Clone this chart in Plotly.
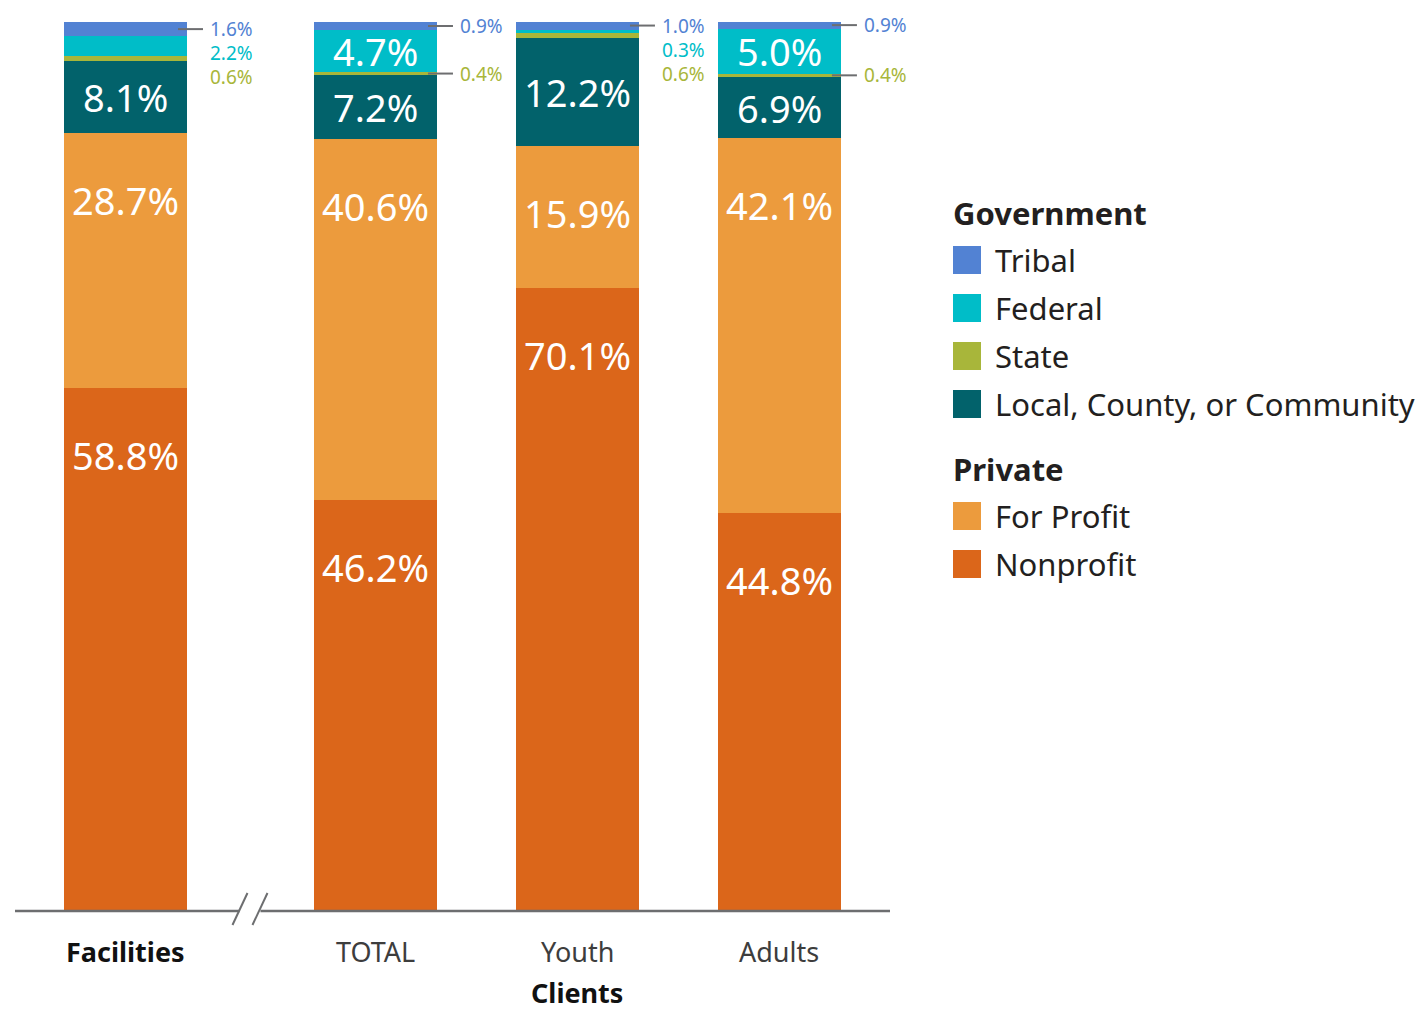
import plotly.graph_objects as go

# ---- data -------------------------------------------------------------
categories = ["Facilities", "TOTAL", "Youth", "Adults"]
series_names = ["Tribal", "Federal", "State", "Local, County, or Community",
                "For Profit", "Nonprofit"]
tribal = [1.6, 0.9, 1.0, 0.9]
federal = [2.2, 4.7, 0.3, 5.0]
state = [0.6, 0.4, 0.6, 0.4]
local = [8.1, 7.2, 12.2, 6.9]
for_profit = [28.7, 40.6, 15.9, 42.1]
nonprofit = [58.8, 46.2, 70.1, 44.8]
legend_groups = [("Government", ["Tribal", "Federal", "State",
                                 "Local, County, or Community"]),
                 ("Private", ["For Profit", "Nonprofit"])]
axis_group_title = "Clients"

# ---- styling ----------------------------------------------------------
colors = {
    "Tribal": "#5282d3",
    "Federal": "#00bdc8",
    "State": "#a8b63a",
    "Local, County, or Community": "#02626b",
    "For Profit": "#ec9b3d",
    "Nonprofit": "#db661a",
}
SANS = "Noto Sans, Open Sans, sans-serif"
INK = "#231f20"
RULE = "#6d6e70"

W, H = 1428, 1010
PX_L, PX_R = 15, 890        # plot area, pixels
PY_T, PY_B = 22, 911

x_pos = [0.0, 1.2376, 2.2376, 3.2376]   # Facilities set apart from client groups
bar_w = 0.609
x_range = [-0.547, 3.785]
y_range = [0, 100]
px_per_unit = (PX_R - PX_L) / (x_range[1] - x_range[0])
px_per_pct = (PY_B - PY_T) / (y_range[1] - y_range[0])


def fx(px):
    return px / W


def fy(py):
    return (H - py) / H


values = {
    "Tribal": tribal, "Federal": federal, "State": state,
    "Local, County, or Community": local,
    "For Profit": for_profit, "Nonprofit": nonprofit,
}
stack_order = ["Nonprofit", "For Profit", "Local, County, or Community",
               "State", "Federal", "Tribal"]

fig = go.Figure()
for name in stack_order:
    fig.add_trace(go.Bar(
        x=x_pos, y=values[name], width=bar_w, name=name,
        marker=dict(color=colors[name], line=dict(width=0)),
        showlegend=False, hoverinfo="skip",
    ))

annotations = []
shapes = []

# ---- segment labels ---------------------------------------------------
for i, cx in enumerate(x_pos):
    lo = 0.0
    seg = {}
    for name in stack_order:
        v = values[name][i]
        seg[name] = (lo, lo + v, v)
        lo += v
    # big labels inside the bars
    for name in stack_order:
        a, b, v = seg[name]
        if v < 3:
            continue
        if v * px_per_pct > 130:
            y, shift = b, -67
        else:
            y, shift = (a + b) / 2, 0
        annotations.append(dict(
            x=cx, y=y, yshift=shift, xref="x", yref="y",
            text=f"{v:.1f}%", showarrow=False,
            xanchor="center", yanchor="middle",
            font=dict(family=SANS, size=38, color="white"),
        ))
    # small labels to the right of the bar
    right = cx + bar_w / 2
    small_stack = federal[i] < 3
    ta, tb, tv = seg["Tribal"]
    y_tribal = (ta + tb) / 2
    outside = [("Tribal", y_tribal, 0, True)]
    if small_stack:
        outside.append(("Federal", y_tribal, -24, False))
        outside.append(("State", y_tribal, -48, False))
    else:
        sa, sb, sv = seg["State"]
        outside.append(("State", (sa + sb) / 2, 0, True))
    for name, y, shift, leader in outside:
        annotations.append(dict(
            x=right, y=y, xshift=21, yshift=shift, xref="x", yref="y",
            text=f"{values[name][i]:.1f}%", showarrow=False,
            xanchor="left", yanchor="middle",
            font=dict(family=SANS, size=19, color=colors[name]),
        ))
        if leader:
            shapes.append(dict(
                type="line", xref="x", yref="y", xsizemode="pixel", xanchor=right,
                x0=-9, x1=16, y0=y, y1=y, line=dict(color=RULE, width=2),
            ))

# ---- baseline with a break between Facilities and Clients ---------------
brk = (x_pos[0] + x_pos[1]) / 2
base_y = fy(PY_B)
shapes.append(dict(type="line", xref="x", yref="paper", x0=x_range[0],
                   x1=brk - 11 / px_per_unit, y0=base_y, y1=base_y,
                   line=dict(color=RULE, width=2.5)))
shapes.append(dict(type="line", xref="x", yref="paper", x0=brk + 10 / px_per_unit,
                   x1=x_range[1], y0=base_y, y1=base_y,
                   line=dict(color=RULE, width=2.5)))
for off in (-18, 2):
    shapes.append(dict(type="line", xref="x", yref="paper",
                       xsizemode="pixel", xanchor=brk, x0=off, x1=off + 15,
                       ysizemode="pixel", yanchor=base_y, y0=-14, y1=18,
                       line=dict(color=RULE, width=2)))

# ---- category labels ----------------------------------------------------
for i, (cx, cat) in enumerate(zip(x_pos, categories)):
    bold = i == 0
    annotations.append(dict(
        x=cx, y=fy(951), xref="x", yref="paper",
        text=f"<b>{cat}</b>" if bold else cat, showarrow=False,
        xanchor="center", yanchor="middle",
        font=dict(family=SANS, size=27, color="#111111" if bold else "#3d3d3d"),
    ))
annotations.append(dict(
    x=x_pos[2], y=fy(992), xref="x", yref="paper",
    text=f"<b>{axis_group_title}</b>", showarrow=False,
    xanchor="center", yanchor="middle",
    font=dict(family=SANS, size=27, color="#111111"),
))

# ---- legend -------------------------------------------------------------
row_y = 213
for title, names in legend_groups:
    annotations.append(dict(
        x=fx(951), y=fy(row_y), xref="paper", yref="paper",
        text=f"<b>{title}</b>", showarrow=False, xanchor="left", yanchor="middle",
        font=dict(family=SANS, size=31, color=INK),
    ))
    row_y += 47
    for name in names:
        shapes.append(dict(type="rect", xref="paper", yref="paper",
                           x0=fx(953), x1=fx(981), y0=fy(row_y + 14), y1=fy(row_y - 14),
                           fillcolor=colors[name], line=dict(width=0)))
        annotations.append(dict(
            x=fx(993), y=fy(row_y), xref="paper", yref="paper",
            text=name, showarrow=False, xanchor="left", yanchor="middle",
            font=dict(family=SANS, size=31, color=INK),
        ))
        row_y += 48
    row_y += 17

fig.update_layout(
    width=W, height=H,
    margin=dict(l=0, r=0, t=0, b=0),
    paper_bgcolor="white", plot_bgcolor="white",
    barmode="stack", bargap=0,
    xaxis=dict(domain=[fx(PX_L), fx(PX_R)], range=x_range, visible=False,
               fixedrange=True),
    yaxis=dict(domain=[fy(PY_B), fy(PY_T)], range=y_range, visible=False,
               fixedrange=True),
    annotations=annotations,
    shapes=shapes,
    showlegend=False,
)

fig.write_html("out.html")
